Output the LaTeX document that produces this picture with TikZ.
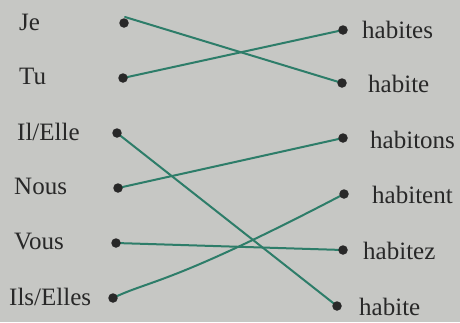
\documentclass[tikz,border=0pt]{standalone}
\usepackage{fontspec}
\setmainfont{Liberation Serif}
\definecolor{bg}{RGB}{198,199,196}
\definecolor{ink}{RGB}{40,40,40}
\definecolor{pen}{RGB}{45,125,105}
\begin{document}
\begin{tikzpicture}[x=1pt,y=-1pt,
  dot/.style={circle,fill=ink,inner sep=0pt,minimum size=9.5pt},
  word/.style={font=\fontsize{25}{29}\selectfont,text=ink,inner sep=0pt},
  link/.style={draw=pen,line width=2pt,line cap=round}]
\fill[bg] (0,0) rectangle (460,322);
\useasboundingbox (0,0) rectangle (460,322);
% left words
\node[word,anchor=west] (je) at (19,22) {Je};
\node[word,anchor=west] (tu) at (19,76) {Tu};
\node[word,anchor=west] (il) at (17,132) {Il/Elle};
\node[word,anchor=west] (nous) at (14,186) {Nous};
\node[word,anchor=west] (vous) at (14,241) {Vous};
\node[word,anchor=west] (ils) at (9,297) {Ils/Elles};
% dot positions
\coordinate (pje) at (124,23);
\coordinate (ptu) at (123,78);
\coordinate (pil) at (117,133);
\coordinate (pnous) at (118,188);
\coordinate (pvous) at (116,243);
\coordinate (pils) at (113,298);
\coordinate (p1) at (343,30);
\coordinate (p2) at (342,83);
\coordinate (p3) at (343,138);
\coordinate (p4) at (344,194);
\coordinate (p5) at (343,250);
\coordinate (p6) at (337,306);
\coordinate (sje) at (125,17);
% connectors
\draw[link] (sje) -- (p2);
\draw[link] (ptu) -- (p1);
\draw[link] (pil) -- (p6);
\draw[link] (pnous) -- (p3);
\draw[link] (pvous) -- (p5);
\draw[link] (pils) .. controls (150,280) and (170,285) .. (p4);
% dots
\node[dot] (dje) at (pje) {};
\node[dot] (dtu) at (ptu) {};
\node[dot] (dil) at (pil) {};
\node[dot] (dnous) at (pnous) {};
\node[dot] (dvous) at (pvous) {};
\node[dot] (dils) at (pils) {};
\node[dot] (r1) at (p1) {};
\node[dot] (r2) at (p2) {};
\node[dot] (r3) at (p3) {};
\node[dot] (r4) at (p4) {};
\node[dot] (r5) at (p5) {};
\node[dot] (r6) at (p6) {};
% right words
\node[word,anchor=west] (w1) at (362,30) {habites};
\node[word,anchor=west] (w2) at (368,84) {habite};
\node[word,anchor=west] (w3) at (370,140) {habitons};
\node[word,anchor=west] (w4) at (372,195) {habitent};
\node[word,anchor=west] (w5) at (363,251) {habitez};
\node[word,anchor=west] (w6) at (359,307) {habite};
\end{tikzpicture}
\end{document}
